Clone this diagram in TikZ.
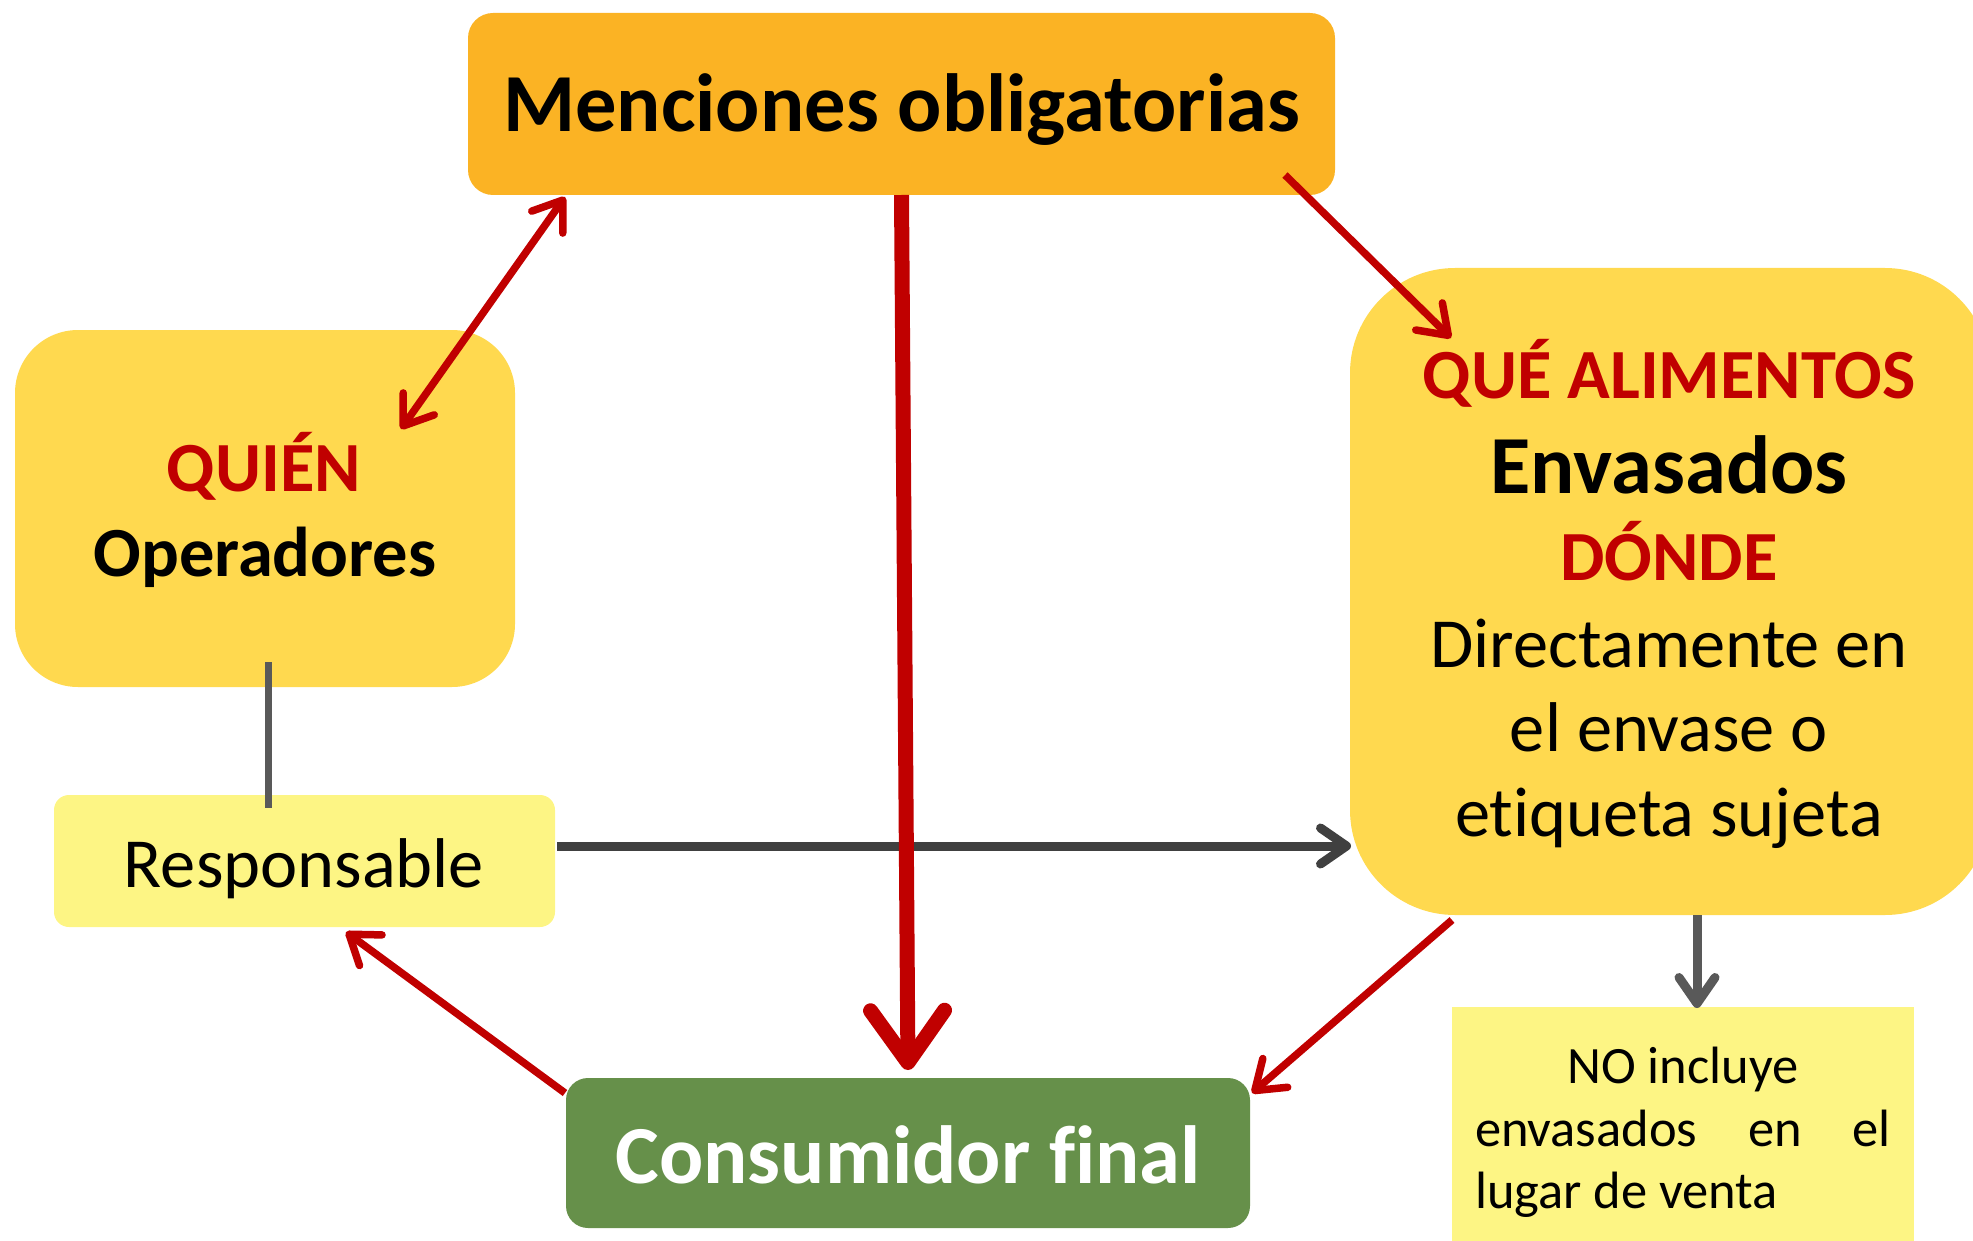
\documentclass[tikz,border=0pt]{standalone}
\usepackage{fontspec}
\setmainfont{Carlito}[Ligatures=NoCommon]
\usetikzlibrary{arrows.meta,calc}
\definecolor{cOrange}{HTML}{FBB324}
\definecolor{cYellow}{HTML}{FFD94F}
\definecolor{cLight}{HTML}{FDF584}
\definecolor{cGreen}{HTML}{66904A}
\definecolor{cRed}{HTML}{C00000}
\definecolor{cDark}{HTML}{404040}
\definecolor{cGray}{HTML}{595959}
\begin{document}
\begin{tikzpicture}[x=1pt,y=-1pt,
  box/.style={draw=none, inner sep=0pt, outer sep=0pt},
  txt/.style={anchor=base, inner sep=0pt, outer sep=0pt},
  bigbold/.style={font=\fontsize{82.5}{99}\selectfont\bfseries},
  midbold/.style={font=\fontsize{70.5}{85}\selectfont\bfseries},
  midreg/.style={font=\fontsize{70.4}{85}\selectfont},
  smallreg/.style={font=\fontsize{52.5}{63}\selectfont},
  redarrow/.style={draw=cRed, line width=7.5pt, -{Straight Barb[length=27pt, width=38pt, round]}},
  redboth/.style={draw=cRed, line width=7.5pt, {Straight Barb[length=27pt, width=38pt, round]}-{Straight Barb[length=27pt, width=38pt, round]}},
  bigred/.style={draw=cRed, line width=15pt, -{Straight Barb[length=52pt, width=74pt, round]}},
  grayarrow/.style={line width=9pt, -{Straight Barb[length=26pt, width=36pt, round]}},
]
\useasboundingbox (0,0) rectangle (1973,1241);
\clip (0,0) rectangle (1973,1241);

% boxes
\node[box, fill=cOrange, rounded corners=25pt, minimum width=867pt, minimum height=182pt] (men) at (901.5,104) {};
\node[box, fill=cYellow, rounded corners=63pt, minimum width=500pt, minimum height=357pt] (quien) at (265,508.5) {};
\node[box, fill=cLight, rounded corners=15pt, minimum width=501pt, minimum height=132pt] (resp) at (304.5,861) {};
\node[box, fill=cYellow, rounded corners=105pt, minimum width=640pt, minimum height=647pt] (que) at (1670,591.5) {};
\node[box, fill=cLight, minimum width=462pt, minimum height=243pt] (nobox) at (1683,1128.5) {};
\node[box, fill=cGreen, rounded corners=22pt, minimum width=684pt, minimum height=150pt] (cons) at (908,1153) {};

% texts
\node[txt, bigbold] (tmen) at (901.5,132) {Menciones obligatorias};
\node[txt, midbold, text=cRed] (tquien) at (264,491) {QUIÉN};
\node[txt, midbold] (toper) at (265,576) {Operadores};
\node[txt, midreg] (tresp) at (304,887) {Responsable};
\node[txt, bigbold, text=white] (tcons) at (908,1183) {Consumidor final};
\node[txt, midbold, text=cRed] (tque) at (1669,398) {QUÉ ALIMENTOS};
\node[txt, bigbold] (tenv) at (1669,493) {Envasados};
\node[txt, midbold, text=cRed] (tdonde) at (1669,580) {DÓNDE};
\node[txt, midreg] (tdir) at (1669,667) {Directamente en};
\node[txt, midreg] (tel) at (1669,751) {el envase o};
\node[txt, midreg] (teti) at (1669,836) {etiqueta sujeta};
\node[txt, smallreg] (tno1) at (1683,1083) {NO incluye};
\node[txt, smallreg, anchor=base west] (tno2) at (1475,1146) {\hbox to 416pt{envasados\hfill en\hfill el}};
\node[txt, smallreg, anchor=base west] (tno3) at (1475,1208) {lugar de venta};

% gray connectors
\draw[cGray, line width=7pt] ($(quien.south)+(3,-25)$) -- ($(resp.north)+(-36.5,13)$);
\draw[grayarrow, cDark] ($(resp.east)+(2,-15)$) -- ($(que.south west)+(1,-69)$);
\draw[grayarrow, cGray] ($(que.south)+(27,0)$) -- ($(nobox.north)+(14,1)$);

% red connectors
\draw[bigred] (men.south) -- ($(cons.north)+(0,-8)$);
\draw[redboth] ($(quien.north east)+(-114,99)$) -- ($(men.south west)+(97,2)$);
\draw[redarrow] ($(men.south east)+(-50,-20)$) -- ($(que.north west)+(101,70)$);
\draw[redarrow] ($(que.south west)+(102,5)$) -- ($(cons.north east)+(2,15)$);
\draw[redarrow] ($(cons.north west)+(-1,15)$) -- ($(resp.south west)+(292,5)$);
\end{tikzpicture}
\end{document}
